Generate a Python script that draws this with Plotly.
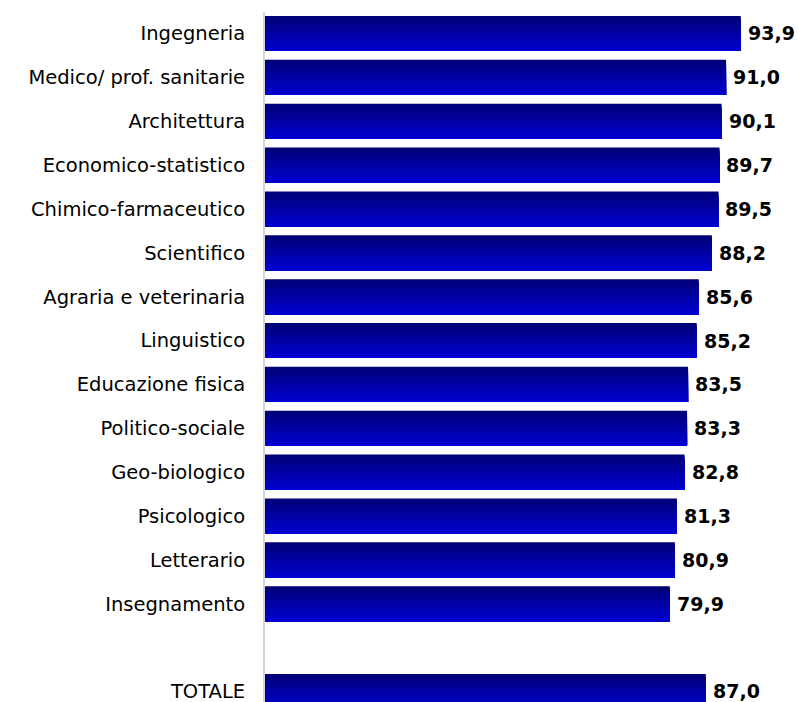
import plotly.graph_objects as go

categories = ["Ingegneria", "Medico/ prof. sanitarie", "Architettura", "Economico-statistico",
              "Chimico-farmaceutico", "Scientifico", "Agraria e veterinaria", "Linguistico",
              "Educazione fisica", "Politico-sociale", "Geo-biologico", "Psicologico",
              "Letterario", "Insegnamento", "TOTALE"]
values = [93.9, 91.0, 90.1, 89.7, 89.5, 88.2, 85.6, 85.2, 83.5, 83.3, 82.8, 81.3, 80.9, 79.9, 87.0]
# slot positions (blank slot before TOTALE)
positions = list(range(14)) + [15]
labels = [f"{v:.1f}".replace(".", ",") for v in values]

top_rgb = (0, 0, 120)
bot_rgb = (0, 0, 208)
bar_w = 0.8
n_slices = 20

fig = go.Figure()
sw = bar_w / n_slices
for i in range(n_slices):
    t = i / (n_slices - 1)
    r = round(top_rgb[0] + (bot_rgb[0] - top_rgb[0]) * t)
    g = round(top_rgb[1] + (bot_rgb[1] - top_rgb[1]) * t)
    b = round(top_rgb[2] + (bot_rgb[2] - top_rgb[2]) * t)
    fig.add_trace(go.Bar(
        x=values, y=positions, orientation="h",
        width=bar_w - i * sw, offset=-bar_w / 2 + i * sw,
        marker=dict(color=f"rgb({r},{g},{b})", line=dict(width=0)),
        hoverinfo="skip", showlegend=False,
    ))

for v, p, lab in zip(values, positions, labels):
    fig.add_annotation(x=v, y=p, text=f"<b>{lab}</b>", showarrow=False,
                       xanchor="left", yanchor="middle", xshift=5,
                       font=dict(family="DejaVu Sans", size=19, color="black"))

fig.update_layout(
    width=798, height=702,
    margin=dict(l=265, r=0, t=12, b=0, autoexpand=False),
    plot_bgcolor="white", paper_bgcolor="white",
    barmode="overlay",
    xaxis=dict(range=[0, 105.2], visible=False),
    yaxis=dict(range=[15.24, -0.49], tickvals=positions, ticktext=categories,
               showline=True, linecolor="#d4d4d4", linewidth=2, showgrid=False,
               zeroline=False, ticks="", ticklabelstandoff=14, automargin=False,
               ticklabeloverflow="allow",
               tickfont=dict(family="DejaVu Sans", size=19.5, color="black")),
)
fig.write_html("out.html", config={"displayModeBar": False},
               post_script="document.body.style.margin='0px';document.body.style.overflow='hidden';")
